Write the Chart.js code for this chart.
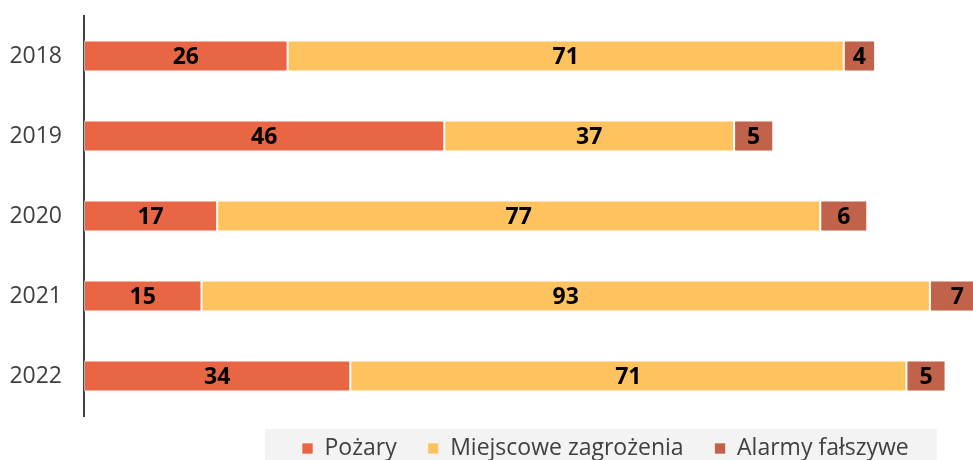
<!DOCTYPE html>
<html>
<head>
<meta charset="utf-8">
<script src="https://cdn.jsdelivr.net/npm/chart.js@4.4.1/dist/chart.umd.min.js"></script>
<style>
    html, body { margin: 0; padding: 0; background: #fff; }
    canvas { display: block; }
</style>
</head>
<body>
<canvas id="chart" width="973" height="460"></canvas>
<script>
// Interwencje wg rodzaju zdarzenia
const years = ['2018', '2019', '2020', '2021', '2022'];
const fires = [26, 46, 17, 15, 34];
const localThreats = [71, 37, 77, 93, 71];
const falseAlarms = [4, 5, 6, 7, 5];
const seriesLabels = ['Pożary', 'Miejscowe zagrożenia', 'Alarmy fałszywe'];
const seriesColors = ['#E96644', '#FEC35F', '#C0634A'];

const TEXT_COLOR = '#404040';
const FONT = "'Open Sans', sans-serif";

Chart.defaults.font.family = FONT;

/**
 * Values written in the middle of each bar segment
 */
const barLabels = {
    id: 'barLabels',
    afterDatasetsDraw(chart) {
        const ctx = chart.ctx;
        ctx.save();
        ctx.font = `bold 23px ${FONT}`;
        ctx.fillStyle = '#000';
        ctx.textAlign = 'center';
        ctx.textBaseline = 'middle';
        chart.data.datasets.forEach((ds, i) => {
            chart.getDatasetMeta(i).data.forEach((bar, j) => {
                ctx.fillText(ds.data[j], (bar.x + bar.base) / 2, bar.y + 1);
            });
        });
        ctx.restore();
    }
};

/**
 * Moves the legend to the right and up, and paints its grey background
 */
const legendBox = {
    id: 'legendBox',
    afterLayout(chart) {
        const lg = chart.legend;
        const pad = lg.options.labels.padding;
        const start = (lg.left + pad + lg.right - lg.lineWidths[0]) / 2;
        const dx = 302 - start;
        const dy = (449 - pad - 12) - lg.top;
        lg.left += dx;
        lg.right += dx;
        lg.top += dy;
        lg.bottom += dy;
    },
    beforeDraw(chart) {
        const hb = chart.legend.legendHitBoxes;
        if (!hb || !hb.length) return;
        const last = hb[hb.length - 1];
        const left = hb[0].left - 37;
        const right = last.left + last.width + 28;
        const ctx = chart.ctx;
        ctx.save();
        ctx.fillStyle = '#F3F3F3';
        ctx.fillRect(left, 429, right - left, 40);
        ctx.restore();
    }
};

const makeSet = (label, data, color) => ({
    label,
    data,
    backgroundColor: color,
    borderColor: 'rgba(255,255,255,0.6)',
    borderWidth: 1,
    borderSkipped: false,
    barPercentage: 0.39,
    categoryPercentage: 1
});

new Chart(document.getElementById('chart'), {
    type: 'bar',
    data: {
        labels: years,
        datasets: [
            makeSet(seriesLabels[0], fires, seriesColors[0]),
            makeSet(seriesLabels[1], localThreats, seriesColors[1]),
            makeSet(seriesLabels[2], falseAlarms, seriesColors[2])
        ]
    },
    options: {
        indexAxis: 'y',
        responsive: false,
        animation: false,
        layout: { padding: { top: 16, bottom: -20, left: 0, right: 0 } },
        scales: {
            x: {
                stacked: true,
                display: false,
                min: 0,
                max: 113.5
            },
            y: {
                stacked: true,
                afterFit: s => {
                    s.width = 84;
                    s.paddingTop = 0;
                    s.paddingBottom = 0;
                },
                grid: { display: false, drawTicks: false },
                border: { display: true, color: TEXT_COLOR, width: 2 },
                ticks: {
                    color: TEXT_COLOR,
                    padding: 22,
                    font: { size: 23 }
                }
            }
        },
        plugins: {
            legend: {
                position: 'bottom',
                labels: {
                    color: TEXT_COLOR,
                    boxWidth: 11,
                    boxHeight: 11,
                    padding: 31,
                    font: { size: 23 }
                }
            },
            tooltip: { enabled: false }
        }
    },
    plugins: [barLabels, legendBox]
});
</script>
</body>
</html>
